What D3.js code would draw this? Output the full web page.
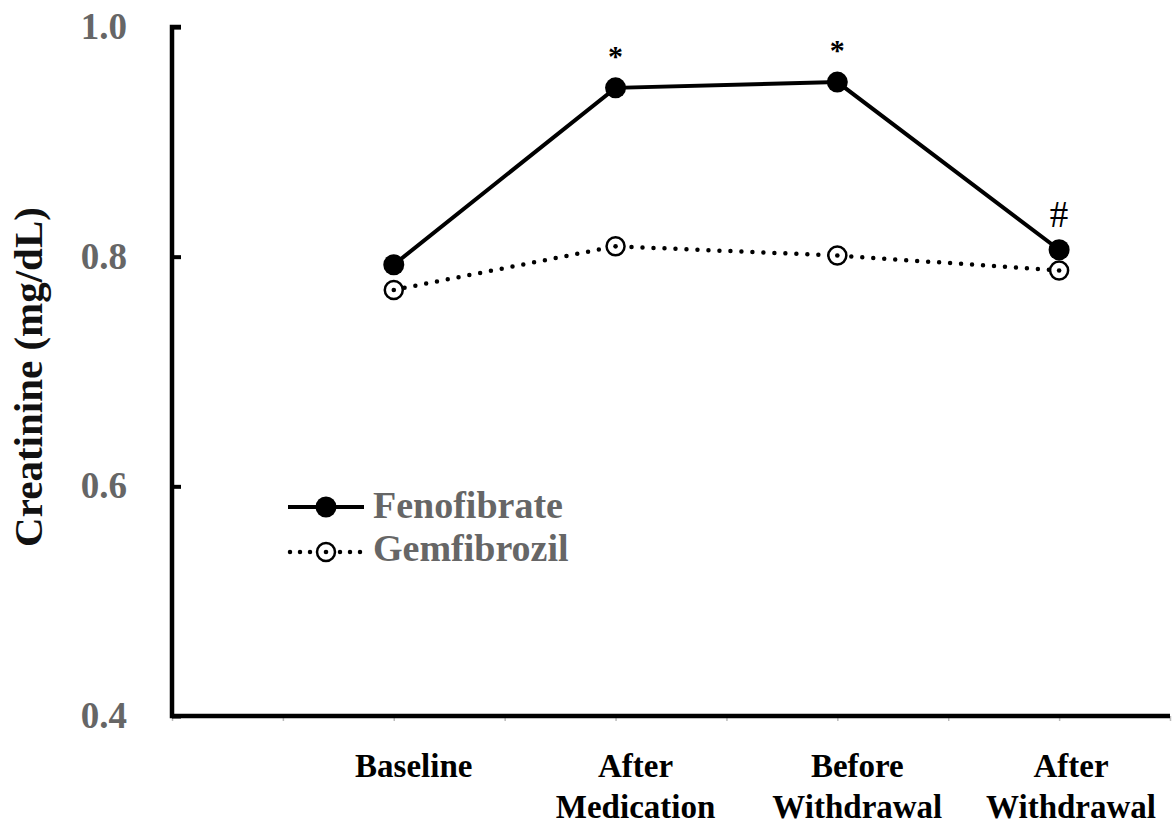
<!DOCTYPE html>
<html><head><meta charset="utf-8">
<script src="https://cdn.jsdelivr.net/npm/d3@7"></script>
<style>body{margin:0;background:#fff}svg{display:block}</style>
</head><body>
<svg id="c" width="1175" height="835"></svg>
<script>
const categories = ["Baseline", "After\nMedication", "Before\nWithdrawal", "After\nWithdrawal"];
const catPos = [2, 4, 6, 8];
const fenofibrate = [0.793, 0.947, 0.952, 0.806];
const gemfibrozil = [0.771, 0.809, 0.801, 0.788];
const annotations = ["", "*", "*", "#"];
const yTicks = [0.4, 0.6, 0.8, 1.0];
const seriesNames = ["Fenofibrate", "Gemfibrozil"];

const svg = d3.select("#c");
const x = d3.scaleLinear().domain([0, 9]).range([172, 1170]);
const y = d3.scaleLinear().domain([0.4, 1.0]).range([716, 27]);
const serif = "'Liberation Serif','Times New Roman',serif";
const gray = "#666";

// minor x ticks
svg.append("g").attr("transform", `translate(0,${y(0.4)})`)
  .call(d3.axisBottom(x).ticks(9).tickSize(5).tickFormat(""))
  .call(g => g.select(".domain").remove())
  .call(g => g.selectAll("line").attr("stroke", "#bbb").attr("stroke-width", 1.5));

// axes lines
svg.append("path")
  .attr("d", `M${x(0)+9},${y(1.0)} H${x(0)} V${y(0.4)} H${x(9)}`)
  .attr("fill", "none").attr("stroke", "#000").attr("stroke-width", 4.5);

// y ticks
const ya = svg.append("g").attr("transform", `translate(${x(0)},0)`)
  .call(d3.axisRight(y).tickValues(yTicks).tickSize(9).tickFormat(""));
ya.select(".domain").remove();
ya.selectAll("line").attr("stroke", "#000").attr("stroke-width", 4);

svg.append("g").selectAll("text").data(yTicks).join("text")
  .attr("x", 127).attr("y", d => y(d) + 12)
  .attr("text-anchor", "end").attr("font-family", serif).attr("font-weight", "bold")
  .attr("font-size", 37).attr("fill", gray).text(d => d.toFixed(1));

// y title
svg.append("text").attr("transform", `translate(42,${377}) rotate(-90)`)
  .attr("text-anchor", "middle").attr("font-family", serif).attr("font-weight", "bold")
  .attr("font-size", 41).attr("fill", "#111").text("Creatinine (mg/dL)");

// x labels (shifted right a little, kept inside the right edge)
const xl = svg.append("g").selectAll("text").data(categories).join("text")
  .attr("text-anchor", "middle").attr("font-family", serif).attr("font-weight", "bold")
  .attr("font-size", 33).attr("fill", "#000");
xl.each(function(d, i) {
  const lines = d.split("\n");
  const t = d3.select(this);
  t.selectAll("tspan").data(lines).join("tspan")
    .attr("y", (l, j) => 777 + j * 41).text(l => l);
  const w = d3.max(t.selectAll("tspan").nodes(), n => n.getComputedTextLength());
  const cx = Math.min(x(catPos[i]) + 20, 1156 - w / 2);
  t.selectAll("tspan").attr("x", cx);
});

// lines
const line = d3.line().x((d, i) => x(catPos[i])).y(d => y(d));
svg.append("path").datum(gemfibrozil).attr("d", line).attr("fill", "none")
  .attr("stroke", "#000").attr("stroke-width", 4.5).attr("stroke-linecap", "round")
  .attr("stroke-dasharray", "0 11");
svg.append("path").datum(fenofibrate).attr("d", line).attr("fill", "none")
  .attr("stroke", "#000").attr("stroke-width", 4);

// markers
svg.append("g").selectAll("circle").data(gemfibrozil).join("circle")
  .attr("cx", (d, i) => x(catPos[i])).attr("cy", d => y(d)).attr("r", 9)
  .attr("fill", "#fff").attr("stroke", "#000").attr("stroke-width", 2.5);
svg.append("g").selectAll("circle").data(gemfibrozil).join("circle")
  .attr("cx", (d, i) => x(catPos[i])).attr("cy", d => y(d)).attr("r", 2.3).attr("fill", "#000");
svg.append("g").selectAll("circle").data(fenofibrate).join("circle")
  .attr("cx", (d, i) => x(catPos[i])).attr("cy", d => y(d)).attr("r", 10.5).attr("fill", "#000");

// annotations
svg.append("g").selectAll("text").data(annotations).join("text")
  .attr("x", (d, i) => x(catPos[i])).attr("y", (d, i) => y(fenofibrate[i]) - (d === "#" ? 23 : 22))
  .attr("text-anchor", "middle").attr("font-family", serif)
  .attr("font-weight", d => d === "*" ? "bold" : "normal")
  .attr("font-size", d => d === "#" ? 37 : 30)
  .attr("fill", "#000").text(d => d);

// legend
const lg = svg.append("g");
lg.append("line").attr("x1", 288).attr("x2", 364).attr("y1", 507).attr("y2", 507)
  .attr("stroke", "#000").attr("stroke-width", 4);
lg.append("circle").attr("cx", 326).attr("cy", 507).attr("r", 10.5).attr("fill", "#000");
lg.append("line").attr("x1", 290).attr("x2", 362).attr("y1", 552).attr("y2", 552)
  .attr("stroke", "#000").attr("stroke-width", 4.5).attr("stroke-linecap", "round")
  .attr("stroke-dasharray", "0 10");
lg.append("circle").attr("cx", 326).attr("cy", 552).attr("r", 9).attr("fill", "#fff")
  .attr("stroke", "#000").attr("stroke-width", 2.5);
lg.append("circle").attr("cx", 326).attr("cy", 552).attr("r", 2.3).attr("fill", "#000");
lg.selectAll("text").data(seriesNames).join("text")
  .attr("x", 373).attr("y", (d, i) => 518 + i * 43)
  .attr("font-family", serif).attr("font-weight", "bold").attr("font-size", 38)
  .attr("fill", gray).text(d => d);
</script>
</body></html>
